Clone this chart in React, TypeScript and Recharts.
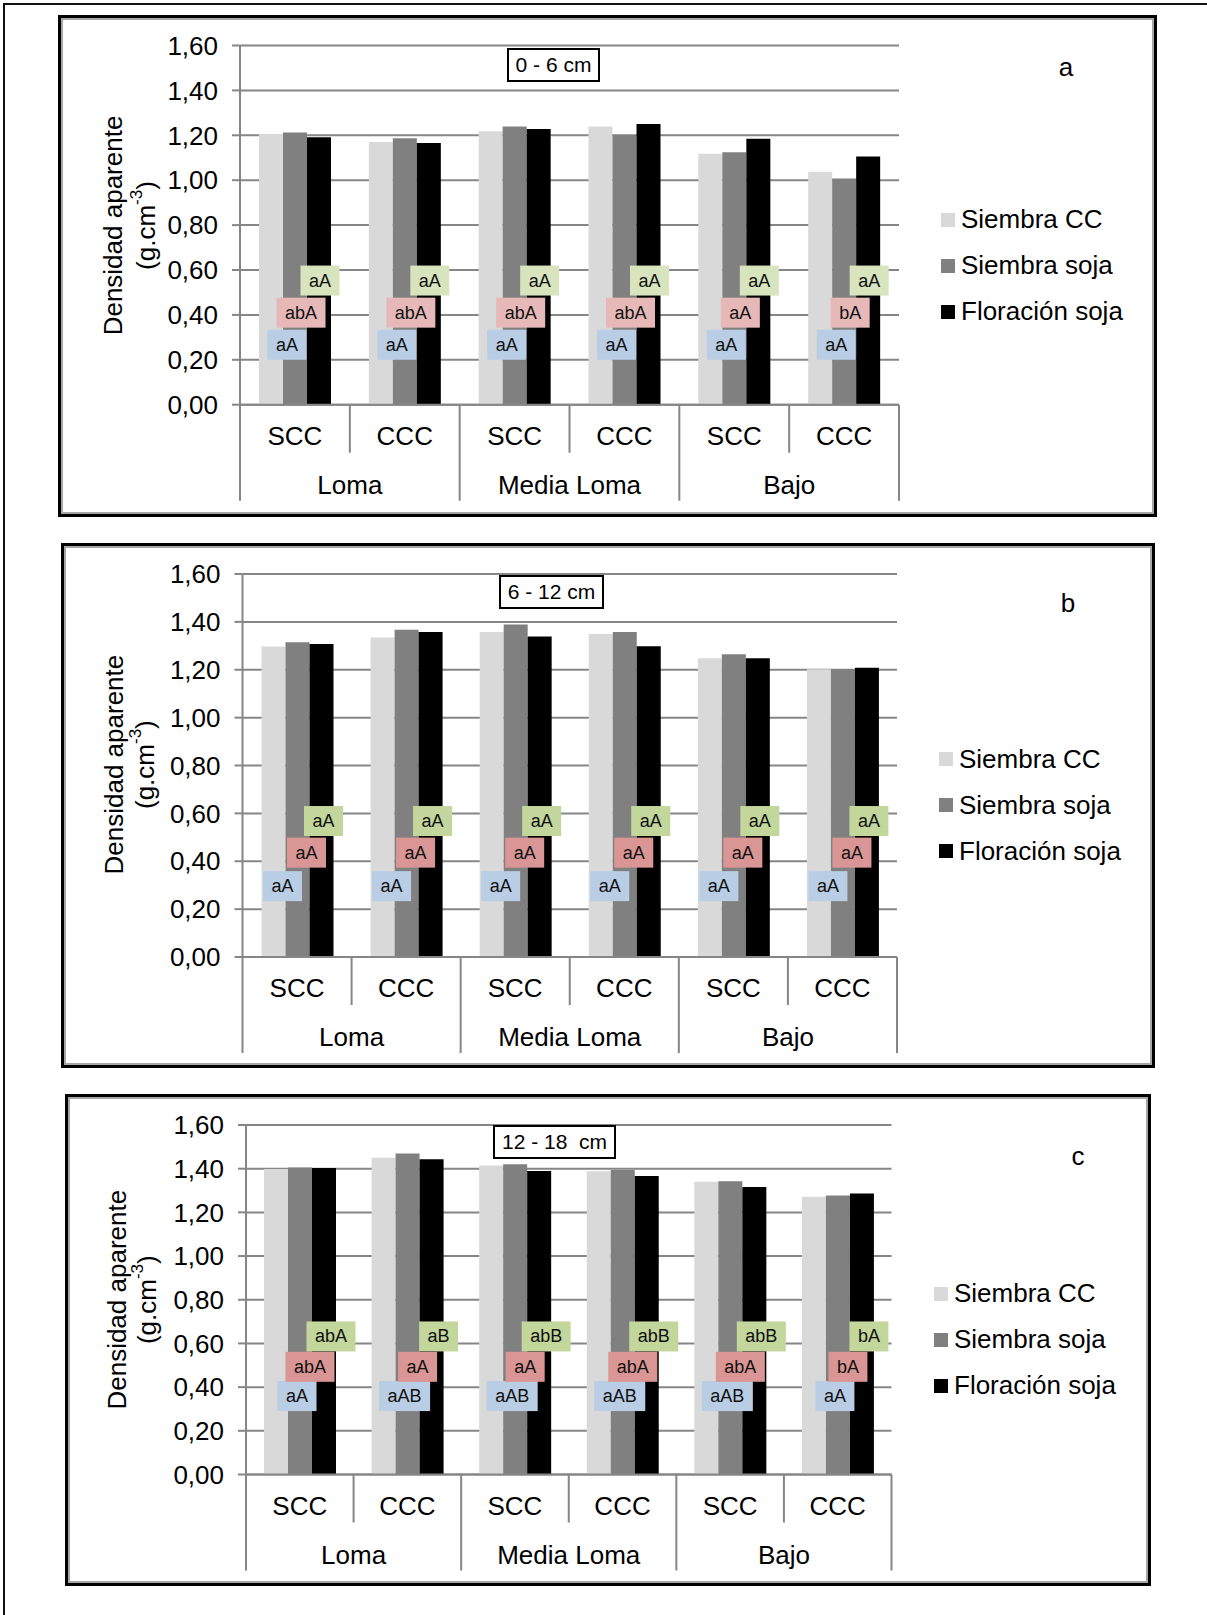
import React from 'react';
import { BarChart, Bar, XAxis, YAxis, CartesianGrid, Legend, Rectangle } from 'recharts';

const FONT = '"Liberation Sans", Arial, Helvetica, sans-serif';
const GRIS = '#868686';

// categorías del eje X (dos niveles)
const manejo = ['SCC', 'CCC', 'SCC', 'CCC', 'SCC', 'CCC'];
const posicion = ['Loma', 'Loma', 'Media Loma', 'Media Loma', 'Bajo', 'Bajo'];
const yTicks = [0, 0.2, 0.4, 0.6, 0.8, 1, 1.2, 1.4, 1.6];
const serieNombres = ['Siembra CC', 'Siembra soja', 'Floración soja'];
const serieColores = ['#d9d9d9', '#808080', '#000000'];

// a) 0 - 6 cm
const ccA = [1.206, 1.17, 1.218, 1.239, 1.118, 1.038];
const sojaA = [1.213, 1.187, 1.239, 1.201, 1.124, 1.008];
const florA = [1.191, 1.166, 1.228, 1.25, 1.185, 1.106];
const letrasCcA = ['aA', 'aA', 'aA', 'aA', 'aA', 'aA'];
const letrasSojaA = ['abA', 'abA', 'abA', 'abA', 'aA', 'bA'];
const letrasFlorA = ['aA', 'aA', 'aA', 'aA', 'aA', 'aA'];

// b) 6 - 12 cm
const ccB = [1.297, 1.335, 1.358, 1.349, 1.248, 1.202];
const sojaB = [1.315, 1.367, 1.389, 1.358, 1.265, 1.201];
const florB = [1.308, 1.358, 1.339, 1.298, 1.248, 1.208];
const letrasCcB = ['aA', 'aA', 'aA', 'aA', 'aA', 'aA'];
const letrasSojaB = ['aA', 'aA', 'aA', 'aA', 'aA', 'aA'];
const letrasFlorB = ['aA', 'aA', 'aA', 'aA', 'aA', 'aA'];

// c) 12 - 18 cm
const ccC = [1.398, 1.45, 1.415, 1.388, 1.34, 1.272];
const sojaC = [1.405, 1.47, 1.42, 1.394, 1.343, 1.277];
const florC = [1.403, 1.443, 1.389, 1.366, 1.316, 1.286];
const letrasCcC = ['aA', 'aAB', 'aAB', 'aAB', 'aAB', 'aA'];
const letrasSojaC = ['abA', 'aA', 'aA', 'abA', 'abA', 'bA'];
const letrasFlorC = ['abA', 'aB', 'abB', 'abB', 'abB', 'bA'];

type Fila = {
  manejo: string;
  posicion: string;
  cc: number;
  soja: number;
  flor: number;
  lcc: string;
  lsoja: string;
  lflor: string;
};

const armarFilas = (
  cc: number[], soja: number[], flor: number[],
  lcc: string[], lsoja: string[], lflor: string[],
): Fila[] =>
  manejo.map((m, i) => ({
    manejo: m,
    posicion: posicion[i],
    cc: cc[i],
    soja: soja[i],
    flor: flor[i],
    lcc: lcc[i],
    lsoja: lsoja[i],
    lflor: lflor[i],
  }));

type Panel = {
  filas: Fila[];
  titulo: string;
  letra: string;
  marco: number[]; // l, t, r, b
  plot: number[]; // l, t, r, b
  caja: number[]; // x, y, w
  letraPos: number[];
  leyenda: number[]; // x, centro primera fila
  ejeY: number[]; // x linea 1, x linea 2, centro y
  niveles: number[]; // altura (g.cm-3) de las etiquetas azul / rosa / verde
  dx: number[];
  rosa: string;
  verde: string;
};

const paneles: Panel[] = [
  {
    filas: armarFilas(ccA, sojaA, florA, letrasCcA, letrasSojaA, letrasFlorA),
    titulo: '0 - 6 cm',
    letra: 'a',
    marco: [58, 15, 1157, 517],
    plot: [240, 45.5, 899, 404.7],
    caja: [507, 48, 93],
    letraPos: [1066, 67],
    leyenda: [941, 219.6],
    ejeY: [113, 146, 225.5],
    niveles: [0.267, 0.41, 0.553],
    dx: [-8, -6, 1],
    rosa: '#e6b9b8',
    verde: '#d7e4bd',
  },
  {
    filas: armarFilas(ccB, sojaB, florB, letrasCcB, letrasSojaB, letrasFlorB),
    titulo: '6 - 12 cm',
    letra: 'b',
    marco: [61, 543, 1155, 1068],
    plot: [242.5, 574, 897, 957],
    caja: [499, 575, 105],
    letraPos: [1068, 603],
    leyenda: [939, 759.4],
    ejeY: [114, 145, 764.6],
    niveles: [0.296, 0.436, 0.568],
    dx: [-15, -3, 2],
    rosa: '#da9694',
    verde: '#c3d69b',
  },
  {
    filas: armarFilas(ccC, sojaC, florC, letrasCcC, letrasSojaC, letrasFlorC),
    titulo: '12 - 18  cm',
    letra: 'c',
    marco: [65, 1094, 1151, 1586],
    plot: [246, 1125, 891.5, 1474.5],
    caja: [493, 1125, 123],
    letraPos: [1078, 1156],
    leyenda: [934, 1293.7],
    ejeY: [117, 147, 1299.7],
    niveles: [0.359, 0.493, 0.632],
    dx: [-3, -2, 7],
    rosa: '#da9694',
    verde: '#c3d69b',
  },
];

const AZUL = '#b9cde5';
const ANCHO_Y = 80;
const ALTO_X = 100;

const anchoTexto = (t: string) =>
  t.split('').reduce((s, c) => s + (c === 'A' || c === 'B' ? 0.667 : 0.556), 0) * 18;

const Etiqueta = ({ cx, cy, texto, fill }: { cx: number; cy: number; texto: string; fill: string }) => {
  const w = anchoTexto(texto) + 17;
  return (
    <g>
      <rect x={cx - w / 2} y={cy - 15} width={w} height={30} fill={fill} />
      <text x={cx} y={cy} textAnchor="middle" dominantBaseline="central" fontSize={18} fontFamily={FONT} fill="#111">
        {texto}
      </text>
    </g>
  );
};

// barra de floración + las letras de significancia de las tres series
const formaFlor = (p: Panel) => (props: any) => {
  const { x, y, width, height, payload, fill } = props;
  const base = y + height;
  const pxPorUnidad = height / payload.flor;
  const nivel = (v: number) => base - v * pxPorUnidad;
  return (
    <g>
      <Rectangle x={x} y={y} width={width} height={height} fill={fill} />
      <Etiqueta cx={x - width / 2 + p.dx[0]} cy={nivel(p.niveles[0])} texto={payload.lcc} fill={AZUL} />
      <Etiqueta cx={x + p.dx[1]} cy={nivel(p.niveles[1])} texto={payload.lsoja} fill={p.rosa} />
      <Etiqueta cx={x + width / 2 + p.dx[2]} cy={nivel(p.niveles[2])} texto={payload.lflor} fill={p.verde} />
    </g>
  );
};

const TickX = (props: any) => {
  const { x, y, payload, index, bw } = props;
  const i = payload?.index ?? index;
  const izq = x - bw / 2;
  const der = x + bw / 2;
  return (
    <g>
      <line x1={izq} y1={y} x2={izq} y2={y + (i % 2 === 0 ? 96 : 48)} stroke={GRIS} strokeWidth={2} />
      {i === manejo.length - 1 && <line x1={der} y1={y} x2={der} y2={y + 96} stroke={GRIS} strokeWidth={2} />}
      <text x={x} y={y + 31} textAnchor="middle" dominantBaseline="central" fontSize={26} fontFamily={FONT} fill="#000">
        {payload.value}
      </text>
      {i % 2 === 0 && (
        <text x={der} y={y + 80} textAnchor="middle" dominantBaseline="central" fontSize={26} fontFamily={FONT} fill="#000">
          {posicion[i]}
        </text>
      )}
    </g>
  );
};

const Leyenda = () => (
  <div style={{ fontFamily: FONT, fontSize: 26, color: '#000' }}>
    {serieNombres.map((n, i) => (
      <div key={n} style={{ height: 46, display: 'flex', alignItems: 'center', whiteSpace: 'nowrap' }}>
        <span style={{ display: 'inline-block', width: 14, height: 14, background: serieColores[i], marginRight: 6 }} />
        {n}
      </div>
    ))}
  </div>
);

const Grafico = ({ p }: { p: Panel }) => {
  const [ml, mt, mr, mb] = p.marco;
  const [pl, pt, pr, pb] = p.plot;
  const alto = mb - mt;
  const bw = (pr - pl) / manejo.length;
  return (
    <>
      <div
        style={{
          position: 'absolute', left: ml, top: mt, width: mr - ml, height: mb - mt,
          boxSizing: 'border-box', border: '3px solid #000', boxShadow: 'inset 0 0 0 2px #a6a6a6',
        }}
      />
      <div style={{ position: 'absolute', left: 0, top: mt, width: 1207, height: alto }}>
        <BarChart
          width={1207}
          height={alto}
          data={p.filas}
          barGap={0}
          barSize={24}
          margin={{ left: pl - ANCHO_Y, top: pt - mt, right: 1207 - pr, bottom: mb - pb - ALTO_X }}
        >
          <CartesianGrid vertical={false} stroke={GRIS} strokeWidth={2} />
          <XAxis
            dataKey="manejo"
            interval={0}
            height={ALTO_X}
            tickSize={0}
            tickMargin={0}
            tickLine={false}
            axisLine={{ stroke: GRIS, strokeWidth: 2 }}
            tick={(t: any) => <TickX {...t} bw={bw} />}
          />
          <YAxis
            domain={[0, 1.6]}
            ticks={yTicks}
            interval={0}
            width={ANCHO_Y}
            tickSize={8}
            tickMargin={14}
            axisLine={{ stroke: GRIS, strokeWidth: 2 }}
            tickLine={{ stroke: GRIS, strokeWidth: 2 }}
            tick={{ fontSize: 26, fill: '#000', fontFamily: FONT }}
            tickFormatter={(v: number) => v.toFixed(2).replace('.', ',')}
          />
          <Legend
            layout="horizontal"
            verticalAlign="middle"
            align="center"
            wrapperStyle={{ left: p.leyenda[0], top: p.leyenda[1] - mt - 23, width: 230 }}
            content={() => <Leyenda />}
          />
          <Bar dataKey="cc" name={serieNombres[0]} fill={serieColores[0]} isAnimationActive={false} />
          <Bar dataKey="soja" name={serieNombres[1]} fill={serieColores[1]} isAnimationActive={false} />
          <Bar dataKey="flor" name={serieNombres[2]} fill={serieColores[2]} isAnimationActive={false} shape={formaFlor(p)} />
        </BarChart>
      </div>
      <div
        style={{
          position: 'absolute', left: p.caja[0], top: p.caja[1], width: p.caja[2], height: 34,
          boxSizing: 'border-box', border: '2px solid #000', background: '#fff',
          fontFamily: FONT, fontSize: 21, lineHeight: '30px', textAlign: 'center', whiteSpace: 'pre',
        }}
      >
        {p.titulo}
      </div>
      <svg style={{ position: 'absolute', left: 0, top: 0, overflow: 'visible' }} width={1} height={1}>
        <text x={p.letraPos[0]} y={p.letraPos[1]} textAnchor="middle" dominantBaseline="central" fontSize={26} fontFamily={FONT}>
          {p.letra}
        </text>
        <text
          x={p.ejeY[0]} y={p.ejeY[2]} textAnchor="middle" dominantBaseline="central" fontSize={26} fontFamily={FONT}
          transform={`rotate(-90 ${p.ejeY[0]} ${p.ejeY[2]})`}
        >
          Densidad aparente
        </text>
        <text
          x={p.ejeY[1]} y={p.ejeY[2]} textAnchor="middle" dominantBaseline="central" fontSize={26} fontFamily={FONT}
          transform={`rotate(-90 ${p.ejeY[1]} ${p.ejeY[2]})`}
        >
          (g.cm<tspan dy={-10} fontSize={17}>-3</tspan><tspan dy={10}>)</tspan>
        </text>
      </svg>
    </>
  );
};

export default function App() {
  return (
    <div style={{ position: 'absolute', left: 0, top: 0, width: 1207, height: 1615, background: '#fff' }}>
      <div
        style={{
          position: 'absolute', left: 3, top: 3, width: 1204, height: 1612,
          borderTop: '2px solid #111', borderLeft: '2px solid #111',
        }}
      />
      {paneles.map((p) => (
        <Grafico key={p.letra} p={p} />
      ))}
    </div>
  );
}
